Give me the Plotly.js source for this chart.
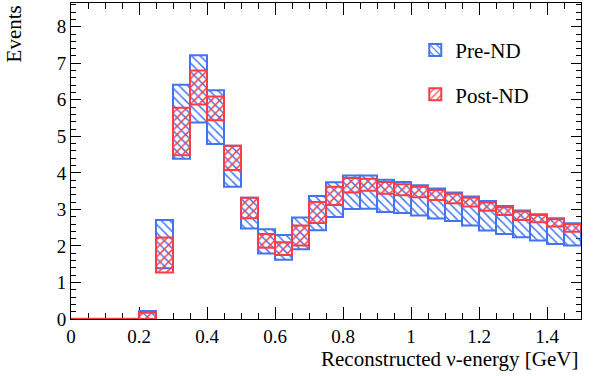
<!DOCTYPE html>
<html>
<head>
<meta charset="utf-8">
<script src="https://cdn.plot.ly/plotly-3.0.1.min.js"></script>
<style>
  html, body { margin: 0; padding: 0; background: #fff; }
  #myDiv { width: 598px; height: 376px; }
</style>
</head>
<body>
<div id="myDiv"></div>
<script>
// bin centres, width 0.05 GeV
var binCenters = [0.025, 0.075, 0.125, 0.175, 0.225, 0.275, 0.325, 0.375, 0.425, 0.475,
                  0.525, 0.575, 0.625, 0.675, 0.725, 0.775, 0.825, 0.875, 0.925, 0.975,
                  1.025, 1.075, 1.125, 1.175, 1.225, 1.275, 1.325, 1.375, 1.425, 1.475];
var binWidth = 0.05;

// Pre-ND error band (low / high edge)
var preLow  = [0, 0, 0, 0, 0, 1.39, 4.39, 5.38, 4.79, 3.62,
               2.48, 1.79, 1.62, 1.91, 2.43, 2.79, 3.01, 3.02, 2.93, 2.90,
               2.83, 2.75, 2.68, 2.56, 2.42, 2.33, 2.24, 2.15, 2.05, 2.01];
var preHigh = [0, 0, 0, 0, 0.22, 2.71, 6.41, 7.22, 6.26, 4.74,
               3.32, 2.46, 2.30, 2.78, 3.37, 3.74, 3.93, 3.93, 3.81, 3.75,
               3.66, 3.57, 3.46, 3.35, 3.23, 3.09, 2.97, 2.87, 2.76, 2.62];

// Post-ND error band
var postLow  = [0, 0, 0, 0, 0, 1.27, 4.48, 5.87, 5.44, 4.08,
                2.76, 1.95, 1.75, 2.01, 2.63, 3.12, 3.46, 3.51, 3.43, 3.39,
                3.33, 3.26, 3.17, 3.08, 2.96, 2.85, 2.71, 2.65, 2.53, 2.39];
var postHigh = [0, 0, 0, 0, 0.17, 2.23, 5.78, 6.80, 6.09, 4.74,
                3.32, 2.33, 2.10, 2.56, 3.20, 3.62, 3.86, 3.84, 3.75, 3.69,
                3.62, 3.53, 3.43, 3.32, 3.19, 3.06, 2.94, 2.85, 2.73, 2.60];

var blue = "rgb(66,115,240)";
var red = "rgb(250,60,70)";
var serif = "Liberation Serif";

function band(name, lo, hi, color, shape, group) {
  var x = [], base = [], h = [];
  for (var i = 0; i < binCenters.length; i++) {
    if (hi[i] <= 0) continue;
    x.push(binCenters[i]);
    base.push(lo[i]);
    h.push(hi[i] - lo[i]);
  }
  return {
    name: name,
    type: "bar",
    x: x,
    y: h,
    base: base,
    width: binWidth,
    legendgroup: group,
    hoverinfo: "skip",
    marker: {
      color: "rgba(0,0,0,0)",
      line: {color: color, width: 2},
      pattern: {shape: shape, fgcolor: color, bgcolor: "rgba(0,0,0,0)", size: 6, solidity: 0.25}
    }
  };
}

// empty bins drawn as a flat line at zero
var zx = [], zy = [];
for (var i = 0; i < binCenters.length; i++) {
  if (postHigh[i] > 0) break;
  zx.push(binCenters[i] - binWidth / 2, binCenters[i] + binWidth / 2);
  zy.push(postHigh[i], postHigh[i]);
}
var zeroLine = {
  type: "scatter", mode: "lines", x: zx, y: zy,
  line: {color: red, width: 2.5}, showlegend: false, hoverinfo: "skip", cliponaxis: false
};

var data = [
  band("Pre-ND", preLow, preHigh, blue, "\\", "a"),
  band("Post-ND", postLow, postHigh, red, "/", "b"),
  zeroLine
];

var axisCommon = {
  showline: true, linecolor: "black", linewidth: 1, mirror: "allticks",
  ticks: "inside", ticklen: 12, tickcolor: "black", tickwidth: 1,
  showgrid: false, zeroline: false, layer: "below traces",
  tickfont: {family: serif, size: 19, color: "black"}
};

var layout = {
  width: 598, height: 376,
  margin: {l: 71, r: 17, t: 3, b: 57},
  paper_bgcolor: "white", plot_bgcolor: "white",
  barmode: "overlay",
  showlegend: true,
  legend: {
    x: 0.675, y: 0.915, xanchor: "left", yanchor: "top",
    bgcolor: "rgba(0,0,0,0)", traceorder: "grouped", tracegroupgap: 14,
    font: {family: serif, size: 21, color: "black"}
  },
  xaxis: Object.assign({}, axisCommon, {
    range: [0, 1.5], dtick: 0.2, tick0: 0,
    minor: {dtick: 0.05, ticklen: 6, tickcolor: "black", ticks: "inside"}
  }),
  yaxis: Object.assign({}, axisCommon, {
    range: [0, 8.65], dtick: 1, tick0: 0, ticklen: 10,
    minor: {dtick: 0.2, ticklen: 5, tickcolor: "black", ticks: "inside"}
  }),
  annotations: [
    {text: "Reconstructed \u03bd-energy [GeV]", xref: "paper", yref: "paper",
     x: 1, y: -0.125, xanchor: "right", yanchor: "middle", showarrow: false,
     font: {family: serif, size: 21, color: "black"}},
    {text: "Events", xref: "paper", yref: "paper", textangle: -90,
     x: -0.112, y: 1.0, xanchor: "center", yanchor: "top", showarrow: false,
     font: {family: serif, size: 21, color: "black"}}
  ]
};

Plotly.newPlot("myDiv", data, layout, {staticPlot: true});
</script>
</body>
</html>
